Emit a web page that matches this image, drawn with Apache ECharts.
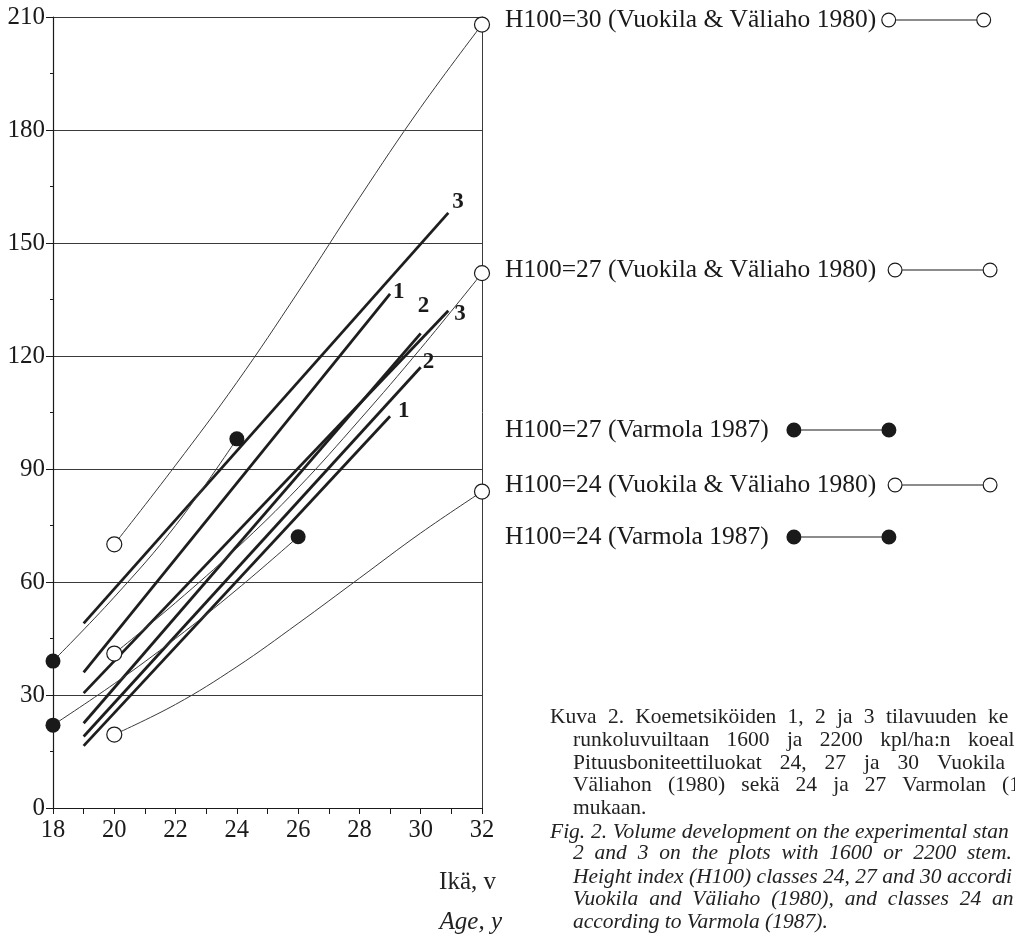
<!DOCTYPE html>
<html>
<head>
<meta charset="utf-8">
<title>Kuva 2</title>
<script src="https://cdn.jsdelivr.net/npm/echarts@6/dist/echarts.min.js"></script>
<style>
html, body { margin: 0; padding: 0; background: #fff; }
#chart { width: 1015px; height: 935px; }
</style>
</head>
<body>
<div id="chart"></div>
<script>
var SERIF = '"Liberation Serif", "Times New Roman", serif';

// Vuokila & Väliaho 1980 (avoimet ympyrät)
var vvAges = [20, 22, 24, 26, 28, 30, 32];
var vv30 = [70, 91, 113, 137, 162, 186, 208];
var vv27 = [41, 54.5, 69, 85, 103, 122, 142];
var vv24 = [19.5, 27.5, 37.5, 49, 61, 73, 84];

// Varmola 1987 (mustat ympyrät)
var varm27Ages = [18, 20, 22, 24];
var varm27 = [39, 56, 75, 98];
var varm24Ages = [18, 20, 22, 24, 26];
var varm24 = [22, 33, 45, 58, 72];

// koemetsiköt 1, 2, 3 (1600 ja 2200 kpl/ha)
var standLabels = ['3', '1', '3', '2', '2', '1'];
var standStartAge = 19;
var standStart = [49, 36, 30.5, 22.5, 19, 16.5];
var standEndAge = [30.9, 29, 30.9, 30, 30, 29];
var standEnd = [158, 136.5, 132, 126, 117, 104];

var names = [
    'H100=30 (Vuokila & Väliaho 1980)',
    'H100=27 (Vuokila & Väliaho 1980)',
    'H100=27 (Varmola 1987)',
    'H100=24 (Vuokila & Väliaho 1980)',
    'H100=24 (Varmola 1987)'
];

var captionLines = [
    ['Kuva 2. Koemetsiköiden 1, 2 ja 3 tilavuuden ke', false],
    ['runkoluvuiltaan 1600 ja 2200 kpl/ha:n koeal', false],
    ['Pituusboniteettiluokat 24, 27 ja 30 Vuokila', false],
    ['Väliahon (1980) sekä 24 ja 27 Varmolan (1', false],
    ['mukaan.', false],
    ['Fig. 2. Volume development on the experimental stan', true],
    ['2 and 3 on the plots with 1600 or 2200 stem.', true],
    ['Height index (H100) classes 24, 27 and 30 accordi', true],
    ['Vuokila and Väliaho (1980), and classes 24 an', true],
    ['according to Varmola (1987).', true]
];

var myChart = echarts.init(document.getElementById('chart'));

// open = true -> rengas, muuten täytetty ympyrä
function iconPath(open) {
    var p = 'path://M0,7.5 A7.5,7.5 0 1,1 15,7.5 A7.5,7.5 0 1,1 0,7.5 Z ';
    if (open) p += 'M1.2,7.5 A6.3,6.3 0 1,0 13.8,7.5 A6.3,6.3 0 1,0 1.2,7.5 Z ';
    p += 'M15,7 L95,7 L95,8 L15,8 Z ';
    p += 'M95,7.5 A7.5,7.5 0 1,1 110,7.5 A7.5,7.5 0 1,1 95,7.5 Z';
    if (open) p += ' M96.2,7.5 A6.3,6.3 0 1,0 108.8,7.5 A6.3,6.3 0 1,0 96.2,7.5 Z';
    return p;
}

function legendAt(name, top, pad, open) {
    return {
        data: [name], left: 505, top: top, padding: 0, align: 'right',
        icon: iconPath(open), itemWidth: 110, itemHeight: 15,
        itemStyle: { color: '#1a1a1a', borderWidth: 0 },
        textStyle: { fontFamily: SERIF, fontSize: 25.5, color: '#1a1a1a' },
        formatter: function (n) { return n + pad; },
        selectedMode: false
    };
}

function curve(name, ages, vals, filled) {
    return {
        name: name, type: 'line', smooth: 0.4, z: 4,
        symbolSize: 15,
        data: ages.map(function (a, i) {
            var end = i === 0 || i === ages.length - 1;
            return { value: [a, vals[i]], symbol: end ? 'circle' : 'none' };
        }),
        itemStyle: filled ? { color: '#1a1a1a' } : { color: '#fff', borderColor: '#1a1a1a', borderWidth: 1.2 },
        lineStyle: { color: '#3a3a3a', width: 1 },
        emphasis: { disabled: true }
    };
}

var labelOffsets = [[4, -11], [3, -2], [6, 3], [-3, -27], [2, -5], [8, -5]];

var series = [
    curve(names[0], vvAges, vv30, false),
    curve(names[1], vvAges, vv27, false),
    curve(names[2], varm27Ages, varm27, true),
    curve(names[3], vvAges, vv24, false),
    curve(names[4], varm24Ages, varm24, true)
];

standLabels.forEach(function (lab, i) {
    series.push({
        type: 'line', z: 3, symbol: 'none',
        data: [[standStartAge, standStart[i]], [standEndAge[i], standEnd[i]]],
        lineStyle: { color: '#1e1e1e', width: 2.8 },
        endLabel: {
            show: true, distance: 0, formatter: lab, offset: labelOffsets[i],
            fontFamily: SERIF, fontWeight: 'bold', fontSize: 23, color: '#1a1a1a'
        },
        emphasis: { disabled: true }
    });
});

// kuvateksti tasattuna
var measure = document.createElement('canvas').getContext('2d');
var captionY = [717, 740, 763, 785, 808, 832, 853, 877, 899, 922];
var captionLeft = [550, 573, 573, 573, 573, 550, 573, 573, 573, 573];
var captionLast = [988, 968, 937, 1002, null, 973, 967, 947, 992, null];
var graphics = [];
captionLines.forEach(function (line, li) {
    var words = line[0].split(' ');
    var font = (line[1] ? 'italic ' : '') + '21.5px "Liberation Serif"';
    measure.font = font;
    var widths = words.map(function (w) { return measure.measureText(w).width; });
    var gap = measure.measureText(' ').width;
    if (captionLast[li] !== null && words.length > 1) {
        var sum = 0;
        for (var k = 0; k < words.length - 1; k++) sum += widths[k];
        gap = (captionLast[li] - captionLeft[li] - sum) / (words.length - 1);
    }
    var x = captionLeft[li];
    words.forEach(function (w, wi) {
        graphics.push({
            type: 'text', x: x, y: captionY[li],
            style: {
                text: w, fontFamily: SERIF, fontSize: 21.5, fontStyle: line[1] ? 'italic' : 'normal',
                fill: '#222', verticalAlign: 'middle'
            }
        });
        x += widths[wi] + gap;
    });
});
graphics.push({
    type: 'text', x: 496, y: 882,
    style: { text: 'Ikä, v', fontFamily: SERIF, fontSize: 25, fill: '#222', align: 'right', verticalAlign: 'middle' }
});
graphics.push({
    type: 'text', x: 502, y: 922,
    style: { text: 'Age, y', fontFamily: SERIF, fontSize: 25, fontStyle: 'italic', fill: '#222', align: 'right', verticalAlign: 'middle' }
});

var option = {
    backgroundColor: '#fff',
    animation: false,
    grid: { left: 53, right: 533, top: 17, bottom: 127 },
    legend: [
        legendAt(names[0], 7, '', true),
        legendAt(names[1], 257, ' ', true),
        legendAt(names[2], 417, '  ', false),
        legendAt(names[3], 472, ' ', true),
        legendAt(names[4], 524, '  ', false)
    ],
    xAxis: {
        type: 'value', min: 18, max: 32, interval: 1,
        axisLine: { lineStyle: { color: '#1a1a1a', width: 1.2 } },
        axisTick: { show: true, length: 6, lineStyle: { color: '#1a1a1a' } },
        axisLabel: {
            margin: 10, fontFamily: SERIF, fontSize: 24.5, color: '#1a1a1a',
            formatter: function (v) { return v % 2 === 0 ? String(v) : ''; }
        },
        splitLine: { show: false }
    },
    yAxis: [{
        type: 'value', min: 0, max: 210, interval: 30,
        axisLine: { show: true, lineStyle: { color: '#1a1a1a', width: 1.2 } },
        axisTick: { show: true, length: 7, lineStyle: { color: '#1a1a1a' } },
        minorTick: { show: true, splitNumber: 2, length: 3, lineStyle: { color: '#1a1a1a' } },
        axisLabel: { margin: 8, fontFamily: SERIF, fontSize: 25, color: '#1a1a1a' },
        splitLine: { show: true, lineStyle: { color: '#3a3a3a', width: 1 } }
    }, {
        type: 'value', min: 0, max: 210, position: 'right',
        axisLine: { show: true, lineStyle: { color: '#3a3a3a', width: 1 } },
        axisTick: { show: false }, axisLabel: { show: false }, splitLine: { show: false }
    }],
    series: series,
    graphic: graphics
};

myChart.setOption(option);
</script>
</body>
</html>
